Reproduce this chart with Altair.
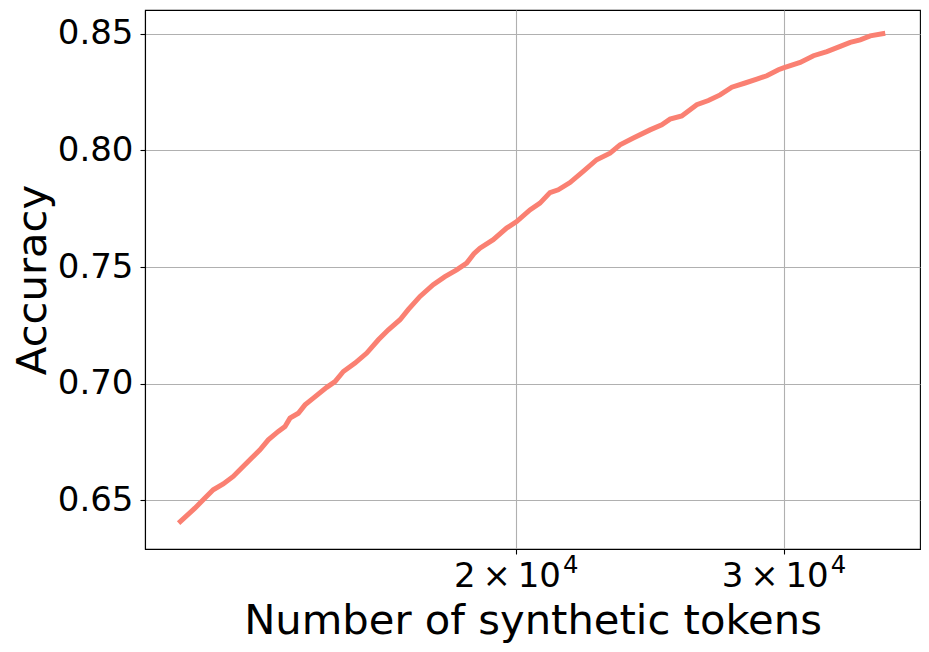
import altair as alt
import pandas as pd

tokens = [12000, 12300, 12456, 12646, 12839, 13035, 13202, 13404, 13574, 13746,
          13956, 14098, 14205, 14385, 14532, 14716, 15017, 15207, 15400, 15675,
          15956, 16239, 16487, 16780, 16989, 17296, 17645, 17961, 18283, 18562,
          18767, 18939, 19324, 19719, 20021, 20428, 20741, 21056, 21323, 21705,
          22145, 22600, 23062, 23414, 23891, 24502, 24941, 25256, 25708, 26299,
          26765, 27244, 27732, 28296, 28802, 29242, 29760, 29986, 30756, 31382,
          32026, 32678, 33178, 33684, 34198, 34984]
accuracy = [0.6402, 0.6466, 0.6502, 0.6545, 0.6570, 0.6602, 0.6638, 0.6681, 0.6716, 0.6759,
            0.6795, 0.6816, 0.6852, 0.6873, 0.6909, 0.6938, 0.6984, 0.7009, 0.7052, 0.7088,
            0.7131, 0.7188, 0.7231, 0.7274, 0.7317, 0.7374, 0.7424, 0.7459, 0.7488, 0.7517,
            0.7557, 0.7581, 0.7617, 0.7667, 0.7695, 0.7745, 0.7774, 0.7819, 0.7831, 0.7862,
            0.7910, 0.7960, 0.7988, 0.8024, 0.8053, 0.8088, 0.8110, 0.8134, 0.8148, 0.8196,
            0.8214, 0.8238, 0.8271, 0.8289, 0.8306, 0.8320, 0.8346, 0.8354, 0.8377, 0.8406,
            0.8424, 0.8446, 0.8463, 0.8474, 0.8491, 0.8502]

x_ticks = [20000, 30000]
x_tick_mantissas = ["2\u2009×\u200910", "3\u2009×\u200910"]
x_tick_exponents = ["4", "4"]
y_ticks = [0.65, 0.70, 0.75, 0.80, 0.85]
x_domain = [11405, 36875]
y_domain = [0.6291, 0.8602]

df = pd.DataFrame({"tokens": tokens, "accuracy": accuracy})
tick_df = pd.DataFrame({"tick": x_ticks, "mant": x_tick_mantissas, "exp": x_tick_exponents})

FONT = "DejaVu Sans"
x_scale = alt.Scale(type="log", domain=x_domain, nice=False)
x_axis = alt.Axis(values=x_ticks, labels=False,
                  title="Number of synthetic tokens",
                  titleFontSize=41.7, titleFontWeight="normal",
                  titleY=84, titleBaseline="alphabetic")

line = alt.Chart(df).mark_line(color="#FA8072", strokeWidth=5, strokeCap="butt").encode(
    x=alt.X("tokens:Q", scale=x_scale, axis=x_axis),
    y=alt.Y("accuracy:Q",
            scale=alt.Scale(domain=y_domain, nice=False, zero=False),
            axis=alt.Axis(values=y_ticks, format=".2f",
                          title="Accuracy",
                          titleFontSize=41.7, titleFontWeight="normal",
                          titleX=-100, titleY=269.5, titleAngle=-90,
                          titleAlign="center", titleBaseline="alphabetic",
                          labelFontSize=34, labelPadding=7,
                          labelFlush=False, labelOverlap=False)),
)

mant = alt.Chart(tick_df).mark_text(
    align="right", baseline="alphabetic", fontSize=34, font=FONT, color="black", dx=45
).encode(
    x=alt.X("tick:Q", scale=x_scale, axis=x_axis),
    y=alt.value(577),
    text="mant:N",
)

sup = alt.Chart(tick_df).mark_text(
    align="left", baseline="alphabetic", fontSize=24.3, font=FONT, color="black", dx=47
).encode(
    x=alt.X("tick:Q", scale=x_scale, axis=x_axis),
    y=alt.value(563),
    text="exp:N",
)

chart = alt.layer(line, mant, sup).properties(
    width=775,
    height=539,
    autosize=alt.AutoSizeParams(type="none"),
    padding={"left": 137, "top": 2, "right": 1, "bottom": 100},
).configure_view(
    stroke="black", strokeWidth=1.1
).configure_axis(
    labelFont=FONT, titleFont=FONT,
    labelColor="black", titleColor="black",
    domainColor="black", domainWidth=1.1,
    tickColor="black", tickWidth=1.1, tickSize=5,
    grid=True, gridColor="#b0b0b0", gridWidth=1.1,
)

chart.save("out.html", embed_options={"renderer": "svg", "actions": False})
